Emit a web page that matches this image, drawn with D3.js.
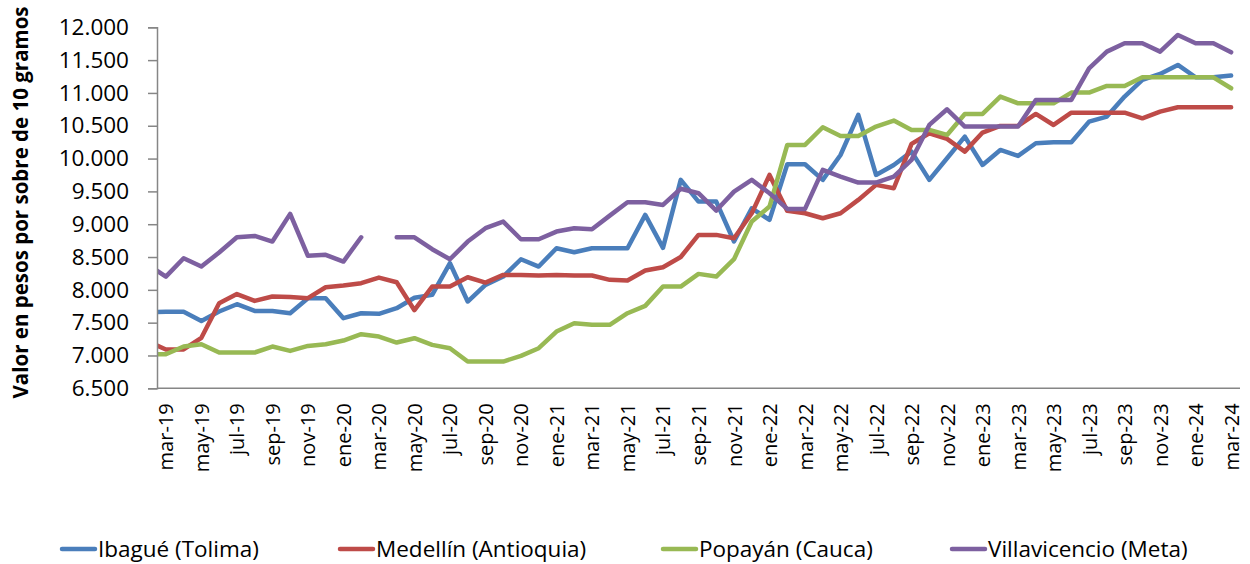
<!DOCTYPE html>
<html>
<head>
<meta charset="utf-8">
<script src="https://cdn.jsdelivr.net/npm/d3@7"></script>
<style>
  body { margin: 0; background: #fff; }
  svg { display: block; font-family: 'Open Sans', sans-serif; }
</style>
</head>
<body>
<svg id="chart" width="1250" height="564"></svg>
<script>
// months shown on the axis start at mar-19; feb-19 only feeds the clipped lead-in
const months = [
  'feb-19', 'mar-19', 'abr-19', 'may-19', 'jun-19', 'jul-19', 'ago-19', 'sep-19', 'oct-19', 'nov-19', 'dic-19',
  'ene-20', 'feb-20', 'mar-20', 'abr-20', 'may-20', 'jun-20', 'jul-20', 'ago-20', 'sep-20', 'oct-20', 'nov-20', 'dic-20',
  'ene-21', 'feb-21', 'mar-21', 'abr-21', 'may-21', 'jun-21', 'jul-21', 'ago-21', 'sep-21', 'oct-21', 'nov-21', 'dic-21',
  'ene-22', 'feb-22', 'mar-22', 'abr-22', 'may-22', 'jun-22', 'jul-22', 'ago-22', 'sep-22', 'oct-22', 'nov-22', 'dic-22',
  'ene-23', 'feb-23', 'mar-23', 'abr-23', 'may-23', 'jun-23', 'jul-23', 'ago-23', 'sep-23', 'oct-23', 'nov-23', 'dic-23',
  'ene-24', 'feb-24', 'mar-24',
]

const seriesNames = ['Ibagué (Tolima)', 'Medellín (Antioquia)', 'Popayán (Cauca)', 'Villavicencio (Meta)']

const ibague = [
  7660, 7665, 7665, 7527, 7670, 7781, 7679, 7679, 7644, 7872, 7872, 7568, 7644, 7634, 7720, 7880,
  7923, 8406, 7822, 8076, 8203, 8466, 8355, 8634, 8573, 8634, 8634, 8634, 9142, 8640, 9675,
  9345, 9345, 8736, 9243, 9066, 9913, 9913, 9675, 10055, 10665, 9751, 9903, 10106, 9675, 10005,
  10335, 9903, 10131, 10040, 10233, 10248, 10248, 10563, 10640, 10944, 11198, 11289, 11426, 11239, 11239, 11264,
]
const medellin = [
  7210, 7092, 7092, 7270, 7796, 7935, 7831, 7898, 7890, 7873, 8040, 8065, 8101, 8187, 8116, 7690,
  8050, 8050, 8192, 8111, 8228, 8228, 8218, 8228, 8218, 8218, 8152, 8142, 8294, 8345, 8500,
  8837, 8837, 8786, 9167, 9751, 9203, 9167, 9091, 9167, 9370, 9599, 9548, 10223, 10386, 10300,
  10106, 10396, 10497, 10497, 10680, 10512, 10700, 10700, 10700, 10700, 10614, 10716, 10782, 10782, 10782, 10782,
]
const popayan = [
  7020, 7019, 7136, 7172, 7045, 7045, 7045, 7136, 7070, 7146, 7172, 7228, 7324, 7289, 7197, 7263,
  7162, 7111, 6908, 6908, 6908, 6994, 7111, 7365, 7492, 7467, 7467, 7644, 7756, 8050, 8050,
  8243, 8203, 8467, 9040, 9269, 10208, 10208, 10477, 10345, 10345, 10487, 10579, 10436, 10436, 10360,
  10680, 10680, 10944, 10842, 10842, 10842, 11005, 11005, 11106, 11106, 11238, 11238, 11238, 11238, 11238, 11071,
]
const villavicencio = [
  8380, 8202, 8482, 8355, 8568, 8801, 8822, 8736, 9157, 8518, 8533, 8431, 8801, null, 8801, 8801,
  8619, 8466, 8736, 8939, 9040, 8771, 8771, 8888, 8939, 8923, 9131, 9335, 9335, 9294, 9540,
  9472, 9208, 9497, 9675, 9472, 9233, 9233, 9827, 9726, 9634, 9634, 9726, 9980, 10513, 10751,
  10487, 10487, 10487, 10487, 10893, 10893, 10893, 11375, 11629, 11756, 11756, 11629, 11883, 11756, 11756, 11619,
]

const yTicks = [6500, 7000, 7500, 8000, 8500, 9000, 9500, 10000, 10500, 11000, 11500, 12000]
const colors = ['#4a7ebb', '#be4b48', '#98b954', '#7d60a0']

const series = [ibague, medellin, popayan, villavicencio]

const svg = d3.select('#chart')
const plotLeft = 157
const plotRight = 1240
const plotTop = 27.3
const plotBottom = 388.3

const x = d3.scaleLinear().domain([0.5, months.length - 0.5]).range([plotLeft, plotRight])
const y = d3.scaleLinear().domain([6500, 12000]).range([plotBottom, plotTop])

svg.append('defs').append('clipPath').attr('id', 'plot')
  .append('rect')
  .attr('x', plotLeft).attr('y', 0)
  .attr('width', plotRight - plotLeft).attr('height', plotBottom + 5)

// lines
const line = d3.line()
  .defined((d) => d != null)
  .x((d, i) => x(i))
  .y((d) => y(d))

svg.append('g')
  .attr('clip-path', 'url(#plot)')
  .selectAll('path')
  .data(series)
  .join('path')
  .attr('d', (d) => line(d))
  .attr('fill', 'none')
  .attr('stroke', (d, i) => colors[i])
  .attr('stroke-width', 4.5)
  .attr('stroke-linejoin', 'round')
  .attr('stroke-linecap', 'round')

// y axis
const yAxis = svg.append('g')
  .attr('transform', `translate(${plotLeft},0)`)
  .call(d3.axisLeft(y)
    .tickValues(yTicks)
    .tickSize(9)
    .tickPadding(19)
    .tickFormat((d) => d3.format(',')(d).replace(',', '.')))
yAxis.select('.domain').attr('stroke', '#868686').attr('stroke-width', 1.5)
yAxis.selectAll('.tick line').attr('stroke', '#868686').attr('stroke-width', 1.5)
yAxis.selectAll('.tick text')
  .attr('font-family', "'Open Sans', sans-serif")
  .attr('font-size', 22.5)
  .attr('fill', '#000')

// x axis
const labelIdx = d3.range(1, months.length, 2)
const xAxis = svg.append('g')
  .attr('transform', `translate(0,${plotBottom})`)
  .call(d3.axisBottom(x)
    .tickValues(labelIdx)
    .tickSize(0)
    .tickFormat((i) => months[i]))
xAxis.select('.domain').attr('d', `M${plotLeft},0H${plotRight}`).attr('stroke', '#868686').attr('stroke-width', 1.5)
xAxis.selectAll('.tick text')
  .attr('font-family', "'Open Sans', sans-serif")
  .attr('font-size', 20)
  .attr('fill', '#000')
  .attr('text-anchor', 'end')
  .attr('transform', 'rotate(-90)')
  .attr('x', -15)
  .attr('y', 0)
  .attr('dy', '0.35em')

// y title
svg.append('text')
  .attr('transform', `translate(28,${(5 + 400) / 2}) rotate(-90)`)
  .attr('text-anchor', 'middle')
  .attr('font-weight', 'bold')
  .attr('font-size', 20.5)
  .text('Valor en pesos por sobre de 10 gramos')

// legend
const legendX = [62, 340, 663, 952]
const legend = svg.append('g')
  .selectAll('g')
  .data(seriesNames)
  .join('g')
  .attr('transform', (d, i) => `translate(${legendX[i]},549)`)
legend.append('line')
  .attr('x1', 0).attr('x2', 33)
  .attr('stroke', (d, i) => colors[i])
  .attr('stroke-width', 4.5)
  .attr('stroke-linecap', 'round')
legend.append('text')
  .attr('x', 36)
  .attr('dy', '0.35em')
  .attr('font-size', 22.5)
  .text((d) => d)
</script>
</body>
</html>
